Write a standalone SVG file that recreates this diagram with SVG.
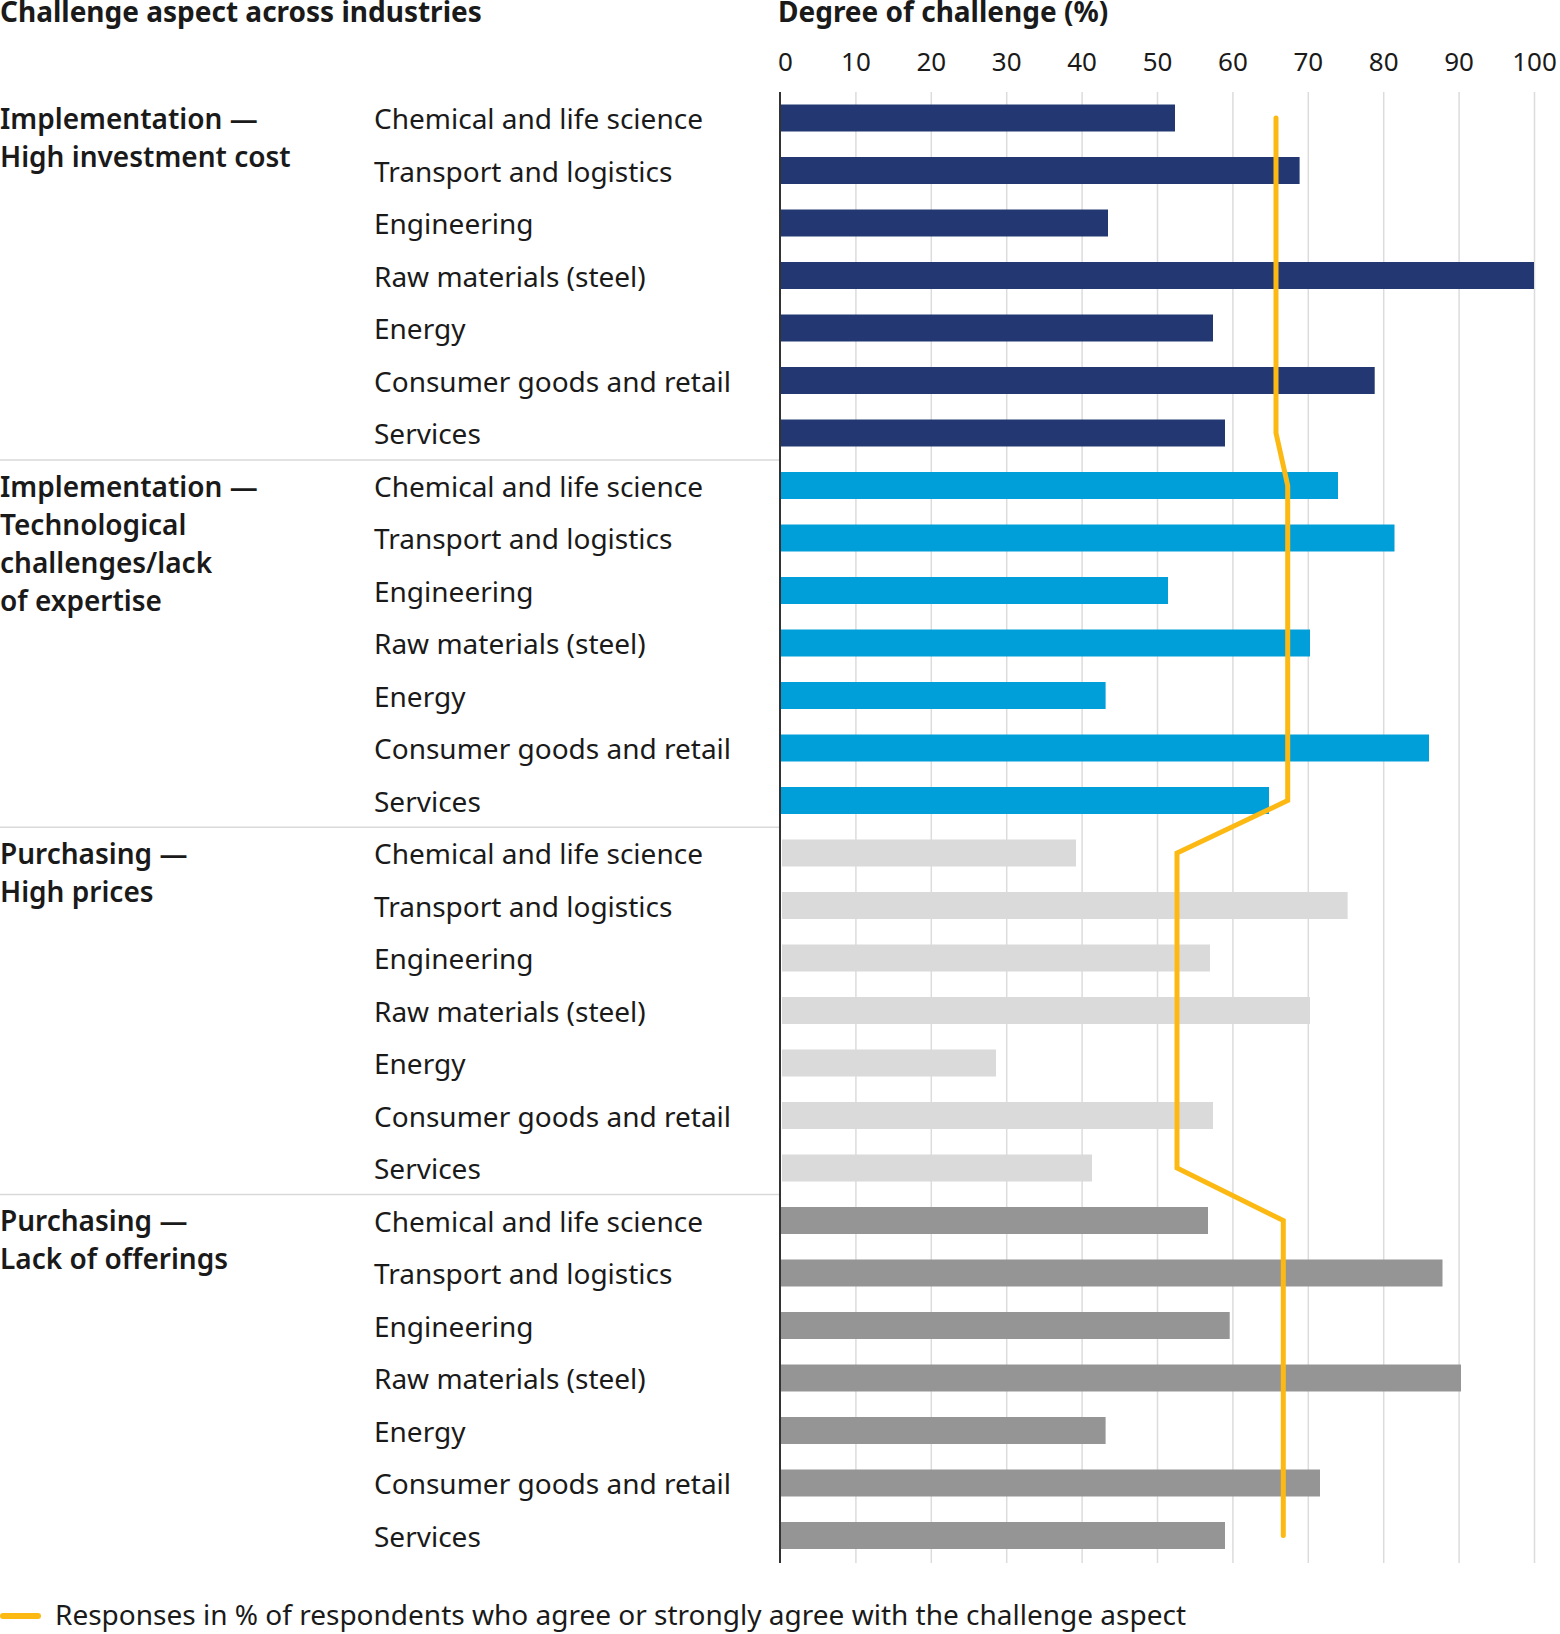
<svg xmlns="http://www.w3.org/2000/svg" width="1560" height="1634" viewBox="0 0 1560 1634">
<style>
text{font-family:"Noto Sans","Open Sans","Liberation Sans",sans-serif;fill:#1a1a1a}
.t{font-size:28px;font-weight:bold}
.g{font-size:28px;font-weight:600}
.r{font-size:28px}
.tk{font-size:26px;text-anchor:middle}
.grid{stroke:#dcdcdc;stroke-width:1.5}
.sep{stroke:#d9d9d9;stroke-width:1.5}
.b1{fill:#233872}
.b2{fill:#009fda}
.b3{fill:#dadada}
.b4{fill:#959595}
.avg{fill:none;stroke:#fdb913;stroke-width:5;stroke-linecap:round;stroke-linejoin:miter}
</style>
<rect width="1560" height="1634" fill="#fff"/>
<g id="titles">
<text class="t" x="0" y="22">Challenge aspect across industries</text>
<text class="t" x="778" y="22">Degree of challenge (%)</text>
</g>
<g id="grid">
<line class="grid" x1="855.9" y1="92" x2="855.9" y2="1563"/>
<line class="grid" x1="931.3" y1="92" x2="931.3" y2="1563"/>
<line class="grid" x1="1006.7" y1="92" x2="1006.7" y2="1563"/>
<line class="grid" x1="1082.1" y1="92" x2="1082.1" y2="1563"/>
<line class="grid" x1="1157.5" y1="92" x2="1157.5" y2="1563"/>
<line class="grid" x1="1232.9" y1="92" x2="1232.9" y2="1563"/>
<line class="grid" x1="1308.3" y1="92" x2="1308.3" y2="1563"/>
<line class="grid" x1="1383.7" y1="92" x2="1383.7" y2="1563"/>
<line class="grid" x1="1459.1" y1="92" x2="1459.1" y2="1563"/>
<line class="grid" x1="1534.5" y1="92" x2="1534.5" y2="1563"/>
</g>
<g id="ticks">
<text class="tk" x="778" y="71" style="text-anchor:start">0</text>
<text class="tk" x="855.9" y="71">10</text>
<text class="tk" x="931.3" y="71">20</text>
<text class="tk" x="1006.7" y="71">30</text>
<text class="tk" x="1082.1" y="71">40</text>
<text class="tk" x="1157.5" y="71">50</text>
<text class="tk" x="1232.9" y="71">60</text>
<text class="tk" x="1308.3" y="71">70</text>
<text class="tk" x="1383.7" y="71">80</text>
<text class="tk" x="1459.1" y="71">90</text>
<text class="tk" x="1534.5" y="71">100</text>
</g>
<g id="separators">
<line class="sep" x1="0" y1="460" x2="780" y2="460"/>
<line class="sep" x1="0" y1="827.3" x2="780" y2="827.3"/>
<line class="sep" x1="0" y1="1194.5" x2="780" y2="1194.5"/>
</g>
<g id="group-investment-cost">
<text class="g" x="0" y="129">Implementation —</text>
<text class="g" x="0" y="167">High investment cost</text>
<text class="r" x="374" y="129">Chemical and life science</text>
<text class="r" x="374" y="181.5">Transport and logistics</text>
<text class="r" x="374" y="234">Engineering</text>
<text class="r" x="374" y="286.5">Raw materials (steel)</text>
<text class="r" x="374" y="339">Energy</text>
<text class="r" x="374" y="391.5">Consumer goods and retail</text>
<text class="r" x="374" y="444">Services</text>
<rect class="b1" x="781" y="104.5" width="394" height="27"/>
<rect class="b1" x="781" y="157" width="518.6" height="27"/>
<rect class="b1" x="781" y="209.5" width="327" height="27"/>
<rect class="b1" x="781" y="262" width="753" height="27"/>
<rect class="b1" x="781" y="314.5" width="432" height="27"/>
<rect class="b1" x="781" y="367" width="593.7" height="27"/>
<rect class="b1" x="781" y="419.5" width="444" height="27"/>
</g>
<g id="group-technological">
<text class="g" x="0" y="497">Implementation —</text>
<text class="g" x="0" y="535">Technological</text>
<text class="g" x="0" y="573">challenges/lack</text>
<text class="g" x="0" y="611">of expertise</text>
<text class="r" x="374" y="496.5">Chemical and life science</text>
<text class="r" x="374" y="549">Transport and logistics</text>
<text class="r" x="374" y="601.5">Engineering</text>
<text class="r" x="374" y="654">Raw materials (steel)</text>
<text class="r" x="374" y="706.5">Energy</text>
<text class="r" x="374" y="759">Consumer goods and retail</text>
<text class="r" x="374" y="811.5">Services</text>
<rect class="b2" x="781" y="472" width="557" height="27"/>
<rect class="b2" x="781" y="524.5" width="613.5" height="27"/>
<rect class="b2" x="781" y="577" width="387" height="27"/>
<rect class="b2" x="781" y="629.5" width="529" height="27"/>
<rect class="b2" x="781" y="682" width="324.6" height="27"/>
<rect class="b2" x="781" y="734.5" width="648" height="27"/>
<rect class="b2" x="781" y="787" width="488" height="27"/>
</g>
<g id="group-high-prices">
<text class="g" x="0" y="864">Purchasing —</text>
<text class="g" x="0" y="902">High prices</text>
<text class="r" x="374" y="864">Chemical and life science</text>
<text class="r" x="374" y="916.5">Transport and logistics</text>
<text class="r" x="374" y="969">Engineering</text>
<text class="r" x="374" y="1021.5">Raw materials (steel)</text>
<text class="r" x="374" y="1074">Energy</text>
<text class="r" x="374" y="1126.5">Consumer goods and retail</text>
<text class="r" x="374" y="1179">Services</text>
<rect class="b3" x="782" y="839.5" width="294" height="27"/>
<rect class="b3" x="782" y="892" width="565.6" height="27"/>
<rect class="b3" x="782" y="944.5" width="428" height="27"/>
<rect class="b3" x="782" y="997" width="528" height="27"/>
<rect class="b3" x="782" y="1049.5" width="214" height="27"/>
<rect class="b3" x="782" y="1102" width="431" height="27"/>
<rect class="b3" x="782" y="1154.5" width="310" height="27"/>
</g>
<g id="group-lack-of-offerings">
<text class="g" x="0" y="1230.5">Purchasing —</text>
<text class="g" x="0" y="1268.5">Lack of offerings</text>
<text class="r" x="374" y="1231.5">Chemical and life science</text>
<text class="r" x="374" y="1284">Transport and logistics</text>
<text class="r" x="374" y="1336.5">Engineering</text>
<text class="r" x="374" y="1389">Raw materials (steel)</text>
<text class="r" x="374" y="1441.5">Energy</text>
<text class="r" x="374" y="1494">Consumer goods and retail</text>
<text class="r" x="374" y="1546.5">Services</text>
<rect class="b4" x="781" y="1207" width="427" height="27"/>
<rect class="b4" x="781" y="1259.5" width="661.5" height="27"/>
<rect class="b4" x="781" y="1312" width="448.7" height="27"/>
<rect class="b4" x="781" y="1364.5" width="680" height="27"/>
<rect class="b4" x="781" y="1417" width="324.6" height="27"/>
<rect class="b4" x="781" y="1469.5" width="539" height="27"/>
<rect class="b4" x="781" y="1522" width="444" height="27"/>
</g>
<g id="axis">
<line x1="780" y1="92" x2="780" y2="1563" stroke="#333" stroke-width="2"/>
</g>
<g id="connectors">
<polyline class="avg" points="1276,118 1276,433 1287.7,485.5 1287.7,800.5 1177,853 1177,1168 1283.3,1220.5 1283.3,1535.5"/>
</g>
<g id="legend">
<line x1="3" y1="1616" x2="38" y2="1616" stroke="#fdb913" stroke-width="6" stroke-linecap="round"/>
<text class="r" x="55" y="1625">Responses in % of respondents who agree or strongly agree with the challenge aspect</text>
</g>
</svg>
